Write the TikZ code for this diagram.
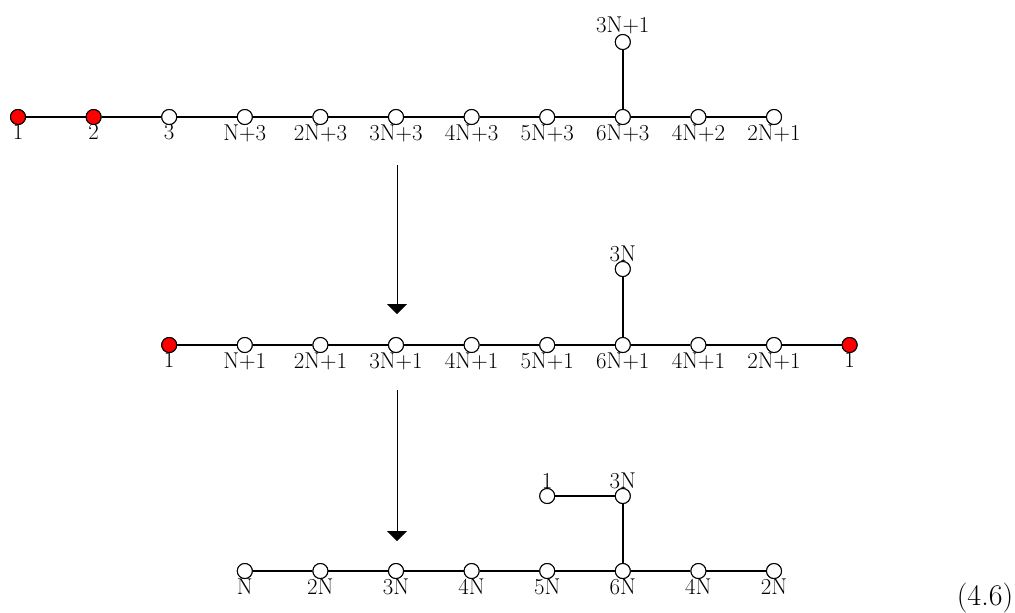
\documentclass[tikz,border=0pt]{standalone}
\usetikzlibrary{arrows.meta}
\begin{document}
\begin{tikzpicture}[x=0.7pt,y=-0.7pt,
  dot/.style={circle,draw,line width=0.7pt,fill=white,minimum size=10.5pt,inner sep=0pt},
  reddot/.style={dot,fill=red},
  edge/.style={line width=1.3pt},
  flow/.style={line width=0.6pt,-{Triangle[width=14pt,length=7pt]}},
  every label/.style={inner sep=0pt,font=\fontsize{16}{19}\selectfont},
  label distance=-0.5pt]
\useasboundingbox (0,0) rectangle (1015,612);
\def\s{75.6}
% Row 1
\node[reddot,label=below:1] (a1) at (18+0*\s,117) {};
\node[reddot,label=below:2] (a2) at (18+1*\s,117) {};
\node[dot,label=below:3] (a3) at (18+2*\s,117) {};
\node[dot,label=below:N+3] (a4) at (18+3*\s,117) {};
\node[dot,label=below:2N+3] (a5) at (18+4*\s,117) {};
\node[dot,label=below:3N+3] (a6) at (18+5*\s,117) {};
\node[dot,label=below:4N+3] (a7) at (18+6*\s,117) {};
\node[dot,label=below:5N+3] (a8) at (18+7*\s,117) {};
\node[dot,label=below:6N+3] (a9) at (18+8*\s,117) {};
\node[dot,label=below:4N+2] (a10) at (18+9*\s,117) {};
\node[dot,label=below:2N+1] (a11) at (18+10*\s,117) {};
\node[dot,label=above:3N+1] (at) at (18+8*\s,42) {};
\draw[edge] (a1)--(a2) (a2)--(a3) (a3)--(a4) (a4)--(a5) (a5)--(a6) (a6)--(a7) (a7)--(a8) (a8)--(a9) (a9)--(a10) (a10)--(a11) (a9)--(at);
% Row 2
\node[reddot,label=below:1] (b1) at (18+2*\s,345) {};
\node[dot,label=below:N+1] (b2) at (18+3*\s,345) {};
\node[dot,label=below:2N+1] (b3) at (18+4*\s,345) {};
\node[dot,label=below:3N+1] (b4) at (18+5*\s,345) {};
\node[dot,label=below:4N+1] (b5) at (18+6*\s,345) {};
\node[dot,label=below:5N+1] (b6) at (18+7*\s,345) {};
\node[dot,label=below:6N+1] (b7) at (18+8*\s,345) {};
\node[dot,label=below:4N+1] (b8) at (18+9*\s,345) {};
\node[dot,label=below:2N+1] (b9) at (18+10*\s,345) {};
\node[reddot,label=below:1] (b10) at (18+11*\s,345) {};
\node[dot,label=above:3N] (bt) at (18+8*\s,269) {};
\draw[edge] (b1)--(b2) (b2)--(b3) (b3)--(b4) (b4)--(b5) (b5)--(b6) (b6)--(b7) (b7)--(b8) (b8)--(b9) (b9)--(b10) (b7)--(bt);
% Row 3
\node[dot,label=below:N] (c1) at (18+3*\s,571) {};
\node[dot,label=below:2N] (c2) at (18+4*\s,571) {};
\node[dot,label=below:3N] (c3) at (18+5*\s,571) {};
\node[dot,label=below:4N] (c4) at (18+6*\s,571) {};
\node[dot,label=below:5N] (c5) at (18+7*\s,571) {};
\node[dot,label=below:6N] (c6) at (18+8*\s,571) {};
\node[dot,label=below:4N] (c7) at (18+9*\s,571) {};
\node[dot,label=below:2N] (c8) at (18+10*\s,571) {};
\node[dot,label=above:3N] (ct) at (18+8*\s,496) {};
\node[dot,label=above:1] (cl) at (18+7*\s,496) {};
\draw[edge] (c1)--(c2) (c2)--(c3) (c3)--(c4) (c4)--(c5) (c5)--(c6) (c6)--(c7) (c7)--(c8) (c6)--(ct) (ct)--(cl);
% redraw nodes on top of edges
\foreach \n in {a1,a2,b1,b10}{\node[reddot] at (\n) {};}
\foreach \n in {a3,a4,a5,a6,a7,a8,a9,a10,a11,at,b2,b3,b4,b5,b6,b7,b8,b9,bt,c1,c2,c3,c4,c5,c6,c7,c8,ct,cl}{\node[dot] at (\n) {};}
% arrows
\coordinate (p1) at (397,165);
\coordinate (q1) at (397,314);
\coordinate (p2) at (397,390);
\coordinate (q2) at (397,541);
\draw[flow] (p1)--(q1);
\draw[flow] (p2)--(q2);
\node (eq) at (985,598) {\fontsize{21}{25}\selectfont (4.6)};
\end{tikzpicture}
\end{document}
